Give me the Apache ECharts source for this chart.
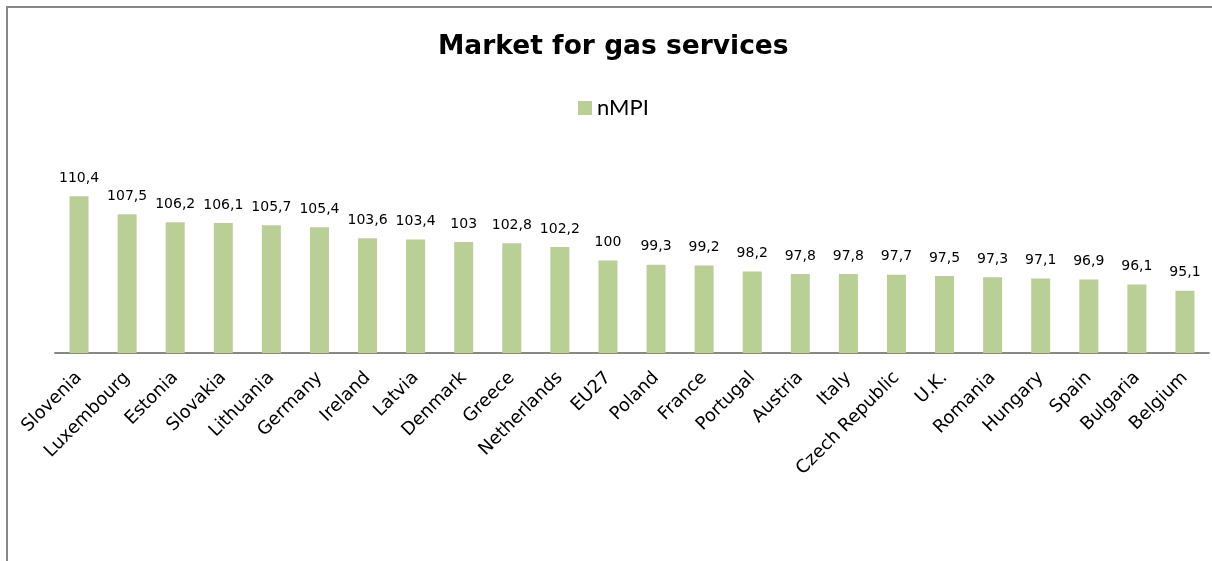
<!DOCTYPE html>
<html><head><meta charset="utf-8">
<script src="https://cdn.jsdelivr.net/npm/echarts@6/dist/echarts.min.js"></script>
<style>html,body{margin:0;padding:0;background:#fff}#c{width:1212px;height:561px}</style>
</head><body><div id="c"></div>
<script>
const categories = ["Slovenia","Luxembourg","Estonia","Slovakia","Lithuania","Germany","Ireland","Latvia","Denmark","Greece","Netherlands","EU27","Poland","France","Portugal","Austria","Italy","Czech Republic","U.K.","Romania","Hungary","Spain","Bulgaria","Belgium"];
const nMPI = [110.4,107.5,106.2,106.1,105.7,105.4,103.6,103.4,103,102.8,102.2,100,99.3,99.2,98.2,97.8,97.8,97.7,97.5,97.3,97.1,96.9,96.1,95.1];
const chart = echarts.init(document.getElementById('c'));
chart.setOption({
  animation:false,
  title:{text:'Market for gas services',left:433,top:29,textStyle:{fontFamily:'DejaVu Sans',fontWeight:'bold',fontSize:26.5,color:'#000'}},
  legend:{data:['nMPI'],left:573,top:92,itemWidth:14,itemHeight:14,icon:'rect',itemGap:8,textStyle:{fontFamily:'Lato',fontSize:22,color:'#000'}},
  graphic:[{type:'rect',shape:{x:7,y:7,width:1230,height:580},style:{fill:'none',stroke:'#888',lineWidth:2},silent:true}],
  grid:{left:55,right:3,top:168,bottom:208,containLabel:false},
  xAxis:{type:'category',data:categories,axisLine:{lineStyle:{color:'#888',width:2}},axisTick:{show:false},
    axisLabel:{rotate:45,interval:0,fontFamily:'DejaVu Sans',fontSize:18,color:'#000',margin:22}},
  yAxis:{type:'value',min:85,max:115,show:false,splitLine:{show:false}},
  series:[{name:'nMPI',type:'bar',data:nMPI,barWidth:19,itemStyle:{color:'#B9CF96'},
    label:{show:true,position:'top',distance:11,fontFamily:'DejaVu Sans',fontSize:14,color:'#000',
      formatter:p=>String(p.value).replace('.',',')}}]
});
</script></body></html>
